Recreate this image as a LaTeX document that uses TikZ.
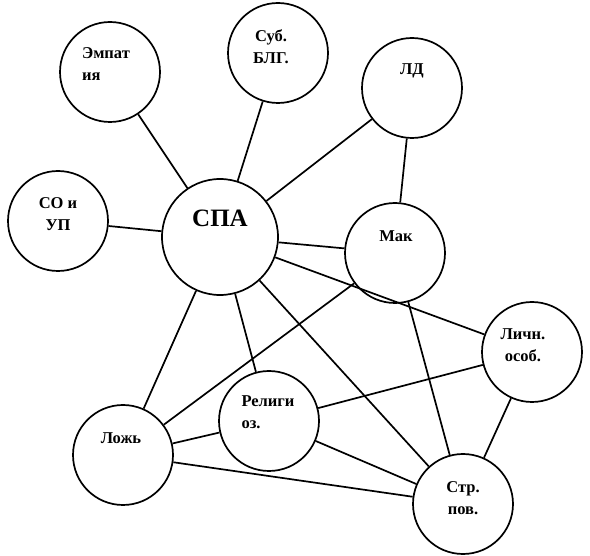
\documentclass[tikz,border=0pt]{standalone}
\usepackage{fontspec}
\setmainfont{Liberation Serif}
\begin{document}
\begin{tikzpicture}[x=1pt, y=-1pt, line width=1.7pt,
    bubble/.style = {draw, circle, minimum size=100pt, inner sep=0pt},
    txt/.style = {align=center, inner sep=0pt, font=\fontsize{16.5}{22}\selectfont\bfseries},
    txtl/.style = {txt, align=left},
    big/.style = {inner sep=0pt, font=\fontsize{25}{28}\selectfont\bfseries}]

      \useasboundingbox (0,0) rectangle (590,556);

      \node [bubble] (emp) at (110,72) {};
      \node [bubble] (sub) at (278,53) {};
      \node [bubble] (ld) at (412,88) {};
      \node [bubble] (so) at (58,221) {};
      \node [bubble, minimum size=116pt] (spa) at (220,237) {};
      \node [bubble] (mak) at (395,253) {};
      \node [bubble] (lich) at (532,352) {};
      \node [bubble] (rel) at (269,421) {};
      \node [bubble] (lozh) at (123,455) {};
      \node [bubble] (str) at (463,504) {};

      \node [txtl] (emptxt) at (106,64) {Эмпат\\ия};
      \node [txt] (subtxt) at (271,47) {Суб.\\БЛГ.};
      \node [txt] (ldtxt) at (412,71) {ЛД};
      \node [txt] (sotxt) at (58,214) {СО и\\УП};
      \node [big] (spatxt) at (220,218) {СПА};
      \node [txt] (maktxt) at (396,236) {Мак};
      \node [txt] (lichtxt) at (523,345) {Личн.\\особ.};
      \node [txtl] (reltxt) at (268,412) {Религи\\оз.};
      \node [txt] (lozhtxt) at (121,438) {Ложь};
      \node [txt] (strtxt) at (463,498) {Стр.\\пов.};

      \draw (emp) -- (spa);
      \draw (sub) -- (spa);
      \draw (ld) -- (spa);
      \draw (ld) -- (mak);
      \draw (so) -- (spa);
      \draw (spa) -- (mak);
      \draw (spa) -- (lich);
      \draw (spa) -- (str);
      \draw (spa) -- (rel);
      \draw (spa) -- (lozh);
      \draw (mak) -- (lozh);
      \draw (mak) -- (str);
      \draw (rel) -- (lich);
      \draw (rel) -- (str);
      \draw (rel) -- (lozh);
      \draw (lozh) -- (str);
      \draw (lich) -- (str);

\end{tikzpicture}
\end{document}
